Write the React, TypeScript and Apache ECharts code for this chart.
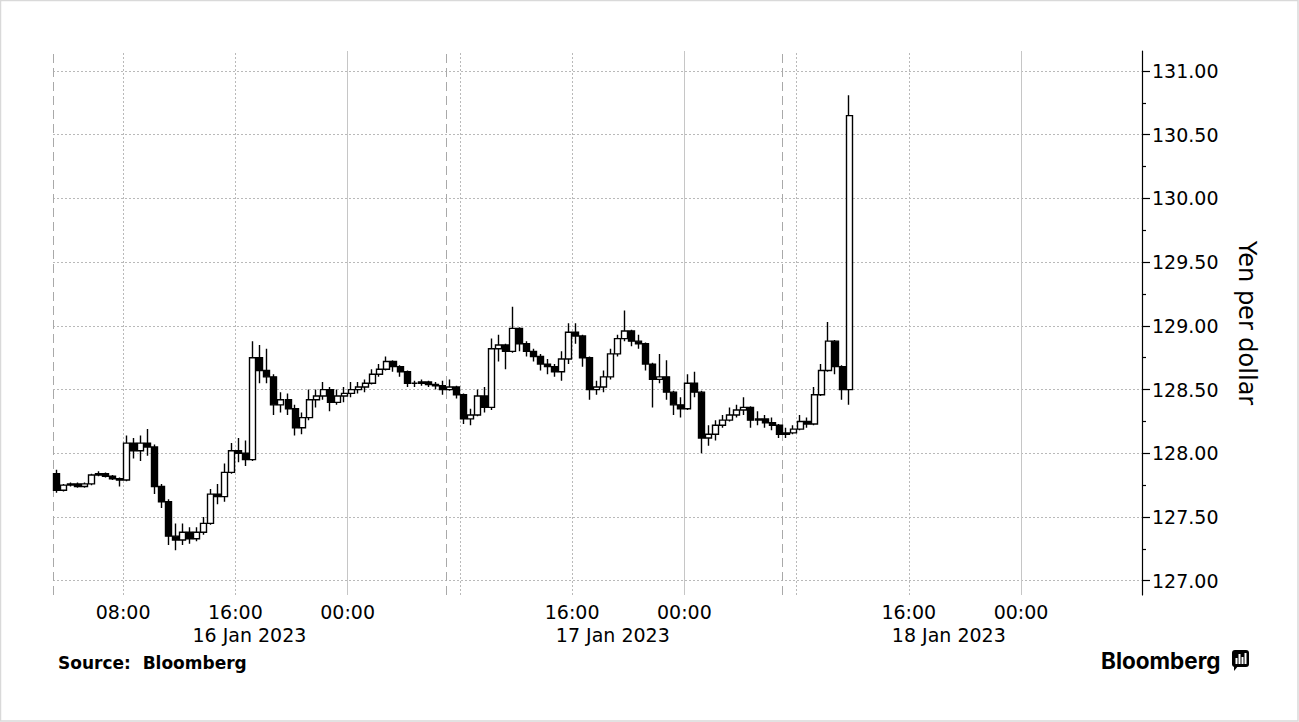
import React, { useEffect, useRef } from "react";
import * as echarts from "echarts";

// Time is measured in hours from 16 Jan 2023 00:00; one candle per 30 minutes.
const FIRST_BAR_HOUR = 3.25;
const BAR_STEP_HOURS = 0.5;
const firstOpen = 127.84;

const closes = [
  127.71, 127.75, 127.76, 127.74, 127.76, 127.83, 127.84, 127.82, 127.8, 127.79,
  128.08, 128.02, 128.08, 128.05, 127.74, 127.62, 127.35, 127.32, 127.38, 127.33,
  127.38, 127.45, 127.68, 127.66, 127.85, 128.02, 128.0, 127.95, 128.75, 128.65,
  128.6, 128.38, 128.42, 128.35, 128.2, 128.28, 128.42, 128.45, 128.5, 128.4,
  128.45, 128.47, 128.5, 128.52, 128.55, 128.62, 128.66, 128.72, 128.68, 128.64,
  128.55, 128.55, 128.56, 128.54, 128.53, 128.5, 128.52, 128.46, 128.27, 128.3,
  128.45, 128.36, 128.82, 128.85, 128.8, 128.98, 128.86, 128.8, 128.76, 128.7,
  128.68, 128.64, 128.74, 128.95, 128.92, 128.75, 128.5, 128.52, 128.6, 128.78,
  128.9, 128.96, 128.88, 128.86, 128.7, 128.58, 128.6, 128.48, 128.38, 128.35,
  128.55, 128.48, 128.12, 128.15, 128.22, 128.26, 128.3, 128.34, 128.36, 128.26,
  128.27, 128.24, 128.22, 128.15, 128.16, 128.19, 128.25, 128.23, 128.46, 128.65,
  128.88, 128.68, 128.5, 130.65,
];

const highs = [
  127.87, 127.76, 127.77, 127.77, 127.77, 127.84, 127.86, 127.85, 127.83, 127.81,
  128.14, 128.12, 128.14, 128.19, 128.07, 127.76, 127.64, 127.45, 127.45, 127.42,
  127.42, 127.5, 127.72, 127.76, 127.92, 128.08, 128.12, 128.1, 128.88, 128.85,
  128.82, 128.62, 128.48, 128.47, 128.38, 128.32, 128.5, 128.5, 128.56, 128.52,
  128.5, 128.52, 128.56, 128.56, 128.58, 128.66, 128.7, 128.76, 128.73, 128.69,
  128.65, 128.57, 128.58, 128.57, 128.56, 128.57, 128.58, 128.53, 128.47, 128.35,
  128.5, 128.52, 128.9, 128.93, 128.86, 129.15, 128.99, 128.88, 128.82, 128.78,
  128.74, 128.7, 128.8, 129.02, 129.02, 128.93, 128.76, 128.57, 128.65, 128.82,
  128.93, 129.12, 128.97, 128.93, 128.87, 128.71, 128.78, 128.73, 128.49, 128.44,
  128.62, 128.64, 128.49, 128.22, 128.26, 128.3, 128.36, 128.38, 128.44, 128.37,
  128.33, 128.3, 128.28, 128.23, 128.2, 128.22, 128.3, 128.28, 128.52, 128.7,
  129.03, 128.89, 128.69, 130.81,
];

const lows = [
  127.69, 127.7, 127.74, 127.73, 127.73, 127.75, 127.82, 127.81, 127.79, 127.74,
  127.78, 127.96, 127.94, 127.98, 127.68, 127.57, 127.28, 127.24, 127.28, 127.29,
  127.31, 127.36, 127.44, 127.6, 127.62, 127.84, 127.93, 127.9, 127.94, 128.55,
  128.55, 128.3, 128.32, 128.3, 128.14, 128.15, 128.26, 128.36, 128.42, 128.33,
  128.38, 128.4, 128.44, 128.47, 128.48, 128.54, 128.6, 128.65, 128.64, 128.6,
  128.52, 128.52, 128.53, 128.52, 128.5, 128.46, 128.49, 128.43, 128.23, 128.22,
  128.29, 128.32, 128.34, 128.72, 128.66, 128.79, 128.8, 128.76, 128.72, 128.65,
  128.62, 128.6, 128.57, 128.7, 128.86, 128.68, 128.42, 128.46, 128.48, 128.58,
  128.76, 128.88, 128.84, 128.82, 128.65, 128.36, 128.55, 128.42, 128.3, 128.28,
  128.34, 128.44, 128.0, 128.06, 128.1, 128.2, 128.25, 128.28, 128.3, 128.2,
  128.22, 128.2, 128.18, 128.12, 128.12, 128.15, 128.18, 128.2, 128.22, 128.45,
  128.64, 128.62, 128.42, 128.38,
];

const xLabelHours = [8, 16, 24, 40, 48, 64, 72];
const dateLabelHours = [17, 42.9, 66.85];
const dateLabels = ["16 Jan 2023", "17 Jan 2023", "18 Jan 2023"];
const dottedGridHours = [8, 16, 32, 40, 56, 64];
const dayGridHours = [24, 48, 72];
const sessionHours = [3, 31, 55];
const yLabelValues = [127, 127.5, 128, 128.5, 129, 129.5, 130, 130.5, 131];
const yMinorTickValues = [127.25, 127.75, 128.25, 128.75, 129.25, 129.75, 130.25, 130.75];

const X_MIN = 3;
const X_MAX = 80.62;
const Y_MIN = 126.888;
const Y_MAX = 131.157;

const FONT = "DejaVu Sans";

export default function App() {
  const ref = useRef<HTMLDivElement>(null);

  useEffect(() => {
    if (!ref.current) return;
    const chart = echarts.init(ref.current, undefined, { renderer: "svg" });

    const candles = closes.map((c, i) => [
      FIRST_BAR_HOUR + i * BAR_STEP_HOURS,
      i === 0 ? firstOpen : closes[i - 1],
      c,
      lows[i],
      highs[i],
    ]);

    const dotted = { color: "#b9b9b9", type: [2, 2], width: 1 };
    const solid = { color: "#c6c6c6", type: "solid", width: 1 };
    const dashed = { color: "#a9a9a9", type: [9, 5], width: 1 };

    const markData: any[] = [
      ...yLabelValues.map((v) => ({ yAxis: v, lineStyle: dotted })),
      ...dottedGridHours.map((h) => ({ xAxis: h, lineStyle: dotted })),
      ...dayGridHours.map((h) => ({ xAxis: h, lineStyle: solid })),
      ...sessionHours.map((h) => ({ xAxis: h, lineStyle: dashed })),
    ];

    const option: any = {
      animation: false,
      backgroundColor: "#ffffff",
      textStyle: { fontFamily: FONT, color: "#000" },
      grid: { left: 53, right: 157, top: 51, bottom: 127, containLabel: false },
      xAxis: [
        {
          type: "value",
          min: X_MIN,
          max: X_MAX,
          axisLine: { show: false },
          axisTick: { show: false },
          splitLine: { show: false },
          axisLabel: {
            customValues: xLabelHours,
            formatter: (v: number) => `${String(Math.round(v) % 24).padStart(2, "0")}:00`,
            color: "#000",
            fontFamily: FONT,
            fontSize: 19,
            margin: 7,
          },
        },
        {
          type: "value",
          min: X_MIN,
          max: X_MAX,
          position: "bottom",
          axisLine: { show: false },
          axisTick: { show: false },
          splitLine: { show: false },
          axisLabel: {
            customValues: dateLabelHours,
            formatter: (v: number) => {
              let best = 0;
              dateLabelHours.forEach((h, i) => {
                if (Math.abs(h - v) < Math.abs(dateLabelHours[best] - v)) best = i;
              });
              return dateLabels[best];
            },
            color: "#000",
            fontFamily: FONT,
            fontSize: 19,
            margin: 30,
          },
        },
      ],
      yAxis: [
        {
          type: "value",
          position: "right",
          min: Y_MIN,
          max: Y_MAX,
          name: "Yen per dollar",
          nameLocation: "middle",
          nameRotate: -90,
          nameGap: 93,
          nameTextStyle: { fontFamily: FONT, fontSize: 24, color: "#000" },
          axisLine: { show: true, onZero: false, lineStyle: { color: "#000", width: 1.2 } },
          axisTick: {
            show: true,
            customValues: yLabelValues,
            length: 8,
            lineStyle: { color: "#000", width: 1.2 },
          },
          splitLine: { show: false },
          axisLabel: {
            customValues: yLabelValues,
            formatter: (v: number) => v.toFixed(2),
            color: "#000",
            fontFamily: FONT,
            fontSize: 19,
            margin: 10,
          },
        },
        {
          type: "value",
          position: "right",
          min: Y_MIN,
          max: Y_MAX,
          axisLine: { show: false },
          axisTick: {
            show: true,
            customValues: yMinorTickValues,
            length: 4,
            lineStyle: { color: "#000", width: 1.2 },
          },
          splitLine: { show: false },
          axisLabel: { show: false },
        },
      ],
      series: [
        {
          type: "candlestick",
          layout: "horizontal",
          xAxisIndex: 0,
          yAxisIndex: 0,
          data: candles,
          barWidth: 6.5,
          itemStyle: {
            color: "#ffffff",
            color0: "#000000",
            borderColor: "#000000",
            borderColor0: "#000000",
            borderWidth: 1.4,
          },
          markLine: {
            silent: true,
            z: 1,
            symbol: ["none", "none"],
            label: { show: false },
            animation: false,
            data: markData,
          },
        },
      ],
      graphic: [
        {
          type: "rect",
          shape: { x: 0.5, y: 0.5, width: 1297.5, height: 720.5 },
          style: { fill: "none", stroke: "#d9d9d9", lineWidth: 1.5 },
          silent: true,
        },
        {
          type: "text",
          x: 58,
          y: 663,
          style: {
            text: "Source:  Bloomberg",
            fontFamily: FONT,
            fontWeight: "bold",
            fontSize: 17,
            fill: "#000",
            verticalAlign: "middle",
            align: "left",
          },
        },
        {
          type: "text",
          x: 1101,
          y: 660,
          style: {
            text: "Bloomberg",
            fontFamily: "Inter",
            fontWeight: 700,
            fontSize: 22.5,
            fill: "#000",
            verticalAlign: "middle",
            align: "left",
          },
        },
        {
          type: "group",
          x: 1232,
          y: 650,
          children: [
            { type: "rect", shape: { x: 0, y: 0, width: 17, height: 17, r: 3 }, style: { fill: "#000" } },
            { type: "polygon", shape: { points: [[2, 15], [2, 21], [7, 15]] }, style: { fill: "#000" } },
            { type: "rect", shape: { x: 3.5, y: 8, width: 2, height: 6 }, style: { fill: "#fff" } },
            { type: "rect", shape: { x: 6.5, y: 4, width: 2, height: 10 }, style: { fill: "#fff" } },
            { type: "rect", shape: { x: 9.5, y: 7, width: 2, height: 7 }, style: { fill: "#fff" } },
            { type: "rect", shape: { x: 12.5, y: 3, width: 2, height: 11 }, style: { fill: "#fff" } },
          ],
        },
      ],
    };

    chart.setOption(option);
    return () => {
      chart.dispose();
    };
  }, []);

  return (
    <div
      ref={ref}
      style={{ position: "absolute", left: 0, top: 0, width: 1299, height: 722, background: "#fff" }}
    />
  );
}
